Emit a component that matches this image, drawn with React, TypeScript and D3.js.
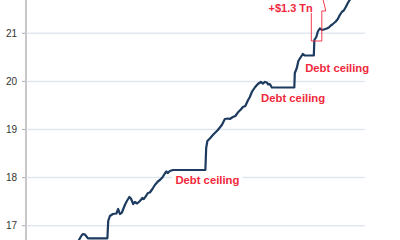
import React from "react";
import * as d3 from "d3";

// Decimal year of each observation
const years: number[] = [
  2013.153, 2013.216, 2013.258, 2013.289, 2013.32, 2013.362, 2013.383, 2013.79,
  2013.807, 2013.842, 2013.905, 2013.978, 2014.015, 2014.051, 2014.093, 2014.155,
  2014.197, 2014.249, 2014.281, 2014.329, 2014.364, 2014.412, 2014.469, 2014.521,
  2014.552, 2014.594, 2014.636, 2014.677, 2014.73, 2014.782, 2014.844, 2014.886,
  2014.938, 2014.99, 2015.022, 2015.053, 2015.095, 2015.157, 2015.836, 2015.853,
  2015.878, 2015.93, 2015.993, 2016.034, 2016.097, 2016.18, 2016.243, 2016.306,
  2016.347, 2016.41, 2016.462, 2016.514, 2016.577, 2016.619, 2016.671, 2016.723,
  2016.765, 2016.807, 2016.869, 2016.932, 2016.995, 2017.036, 2017.078, 2017.12,
  2017.151, 2017.183, 2017.224, 2017.694, 2017.704, 2017.746, 2017.778, 2017.83,
  2017.871, 2017.913, 2018.101, 2018.112, 2018.153, 2018.185, 2018.226, 2018.268,
  2018.31, 2018.373, 2018.414, 2018.456, 2018.498, 2018.56, 2018.602, 2018.644,
  2018.686, 2018.727, 2018.769, 2018.811, 2018.863, 2018.915,
];

// Debt outstanding, $ trillions
const debt: number[] = [
  16.62, 16.738, 16.807, 16.827, 16.817, 16.765, 16.738, 16.738,
  17.098, 17.202, 17.243, 17.254, 17.347, 17.243, 17.274, 17.43,
  17.514, 17.597, 17.566, 17.451, 17.493, 17.462, 17.514, 17.576,
  17.555, 17.617, 17.68, 17.69, 17.763, 17.846, 17.919, 17.95,
  18.002, 18.085, 18.127, 18.096, 18.137, 18.158, 18.158, 18.615,
  18.761, 18.813, 18.886, 18.927, 18.99, 19.094, 19.218, 19.229,
  19.218, 19.26, 19.281, 19.353, 19.416, 19.468, 19.489, 19.603,
  19.676, 19.78, 19.873, 19.946, 19.988, 19.956, 19.988, 19.977,
  19.936, 19.946, 19.873, 19.873, 20.175, 20.279, 20.424, 20.507,
  20.57, 20.538, 20.538, 20.861, 20.923, 21.037, 21.1, 21.069,
  21.079, 21.1, 21.121, 21.162, 21.193, 21.245, 21.297, 21.38,
  21.443, 21.474, 21.547, 21.63, 21.713, 21.817,
];

const yTicks: number[] = [17, 18, 19, 20, 21];

const ceilingLabels: string[] = ["Debt ceiling", "Debt ceiling", "Debt ceiling"];
const ceilingLabelYears: number[] = [2015.21, 2017.0, 2017.92];
const ceilingLabelValues: number[] = [17.867, 19.572, 20.195];

const jumpLabel = "+$1.3 Tn";
const jumpLabelYear = 2018.08;
const jumpLabelValue = 21.443;

// Bracket marking the jump
const bracketYears: number[] = [2018.049, 2018.049, 2018.268, 2018.268, 2018.352, 2018.289];
const bracketValues: number[] = [21.422, 20.84, 20.84, 21.464, 21.464, 21.72];

const W = 400;
const H = 240;
const RED = "#f0283c";
const NAVY = "#1d3a5f";

export default function App() {
  const x = d3.scaleLinear().domain([2012.09, 2019.17]).range([26, 365]);
  const y = d3.scaleLinear().domain([17, 21]).range([225.7, 33.3]);

  const pts: [number, number][] = years.map((yr, i) => [yr, debt[i]]);
  const line = d3
    .line<[number, number]>()
    .x((d) => x(d[0]))
    .y((d) => y(d[1]));

  const bracketPts: [number, number][] = bracketYears.map((yr, i) => [yr, bracketValues[i]]);

  const labelFont = "'Liberation Sans', Arial, sans-serif";

  return (
    <svg
      width={W}
      height={H}
      style={{ position: "absolute", left: 0, top: 0, background: "#fff" }}
    >
      {yTicks.map((t) => (
        <g key={t}>
          <line x1={x.range()[0]} x2={x.range()[1]} y1={y(t)} y2={y(t)} stroke="#e1e7f0" strokeWidth={1.5} />
          <line x1={x.range()[0] - 4} x2={x.range()[0]} y1={y(t)} y2={y(t)} stroke="#aaa" strokeWidth={1} />
          <text
            x={x.range()[0] - 9}
            y={y(t)}
            dy="0.35em"
            textAnchor="end"
            fontSize={10}
            fontFamily={labelFont}
            fill="#333"
          >
            {t}
          </text>
        </g>
      ))}
      <line x1={x.range()[0]} x2={x.range()[0]} y1={0} y2={H} stroke="#c8c8c8" strokeWidth={2} />

      <path d={line(pts) || ""} fill="none" stroke={NAVY} strokeWidth={2.2} strokeLinejoin="round" />

      <path
        d={line(bracketPts) || ""}
        fill="none"
        stroke={RED}
        strokeWidth={1}
        opacity={0.9}
      />

      {ceilingLabels.map((s, i) => (
        <g key={i}>
          {i === 0 && (
            <rect
              x={x(ceilingLabelYears[i]) - 3}
              y={y(ceilingLabelValues[i]) - 10}
              width={70}
              height={14}
              fill="#fff"
            />
          )}
          <text
            x={x(ceilingLabelYears[i])}
            y={y(ceilingLabelValues[i])}
            fontSize={11.3}
            fontWeight="bold"
            fontFamily={labelFont}
            fill={RED}
          >
            {s}
          </text>
        </g>
      ))}
      <text
        x={x(jumpLabelYear)}
        y={y(jumpLabelValue)}
        fontSize={11}
        fontWeight="bold"
        fontFamily={labelFont}
        fill={RED}
        textAnchor="end"
      >
        {jumpLabel}
      </text>
    </svg>
  );
}
